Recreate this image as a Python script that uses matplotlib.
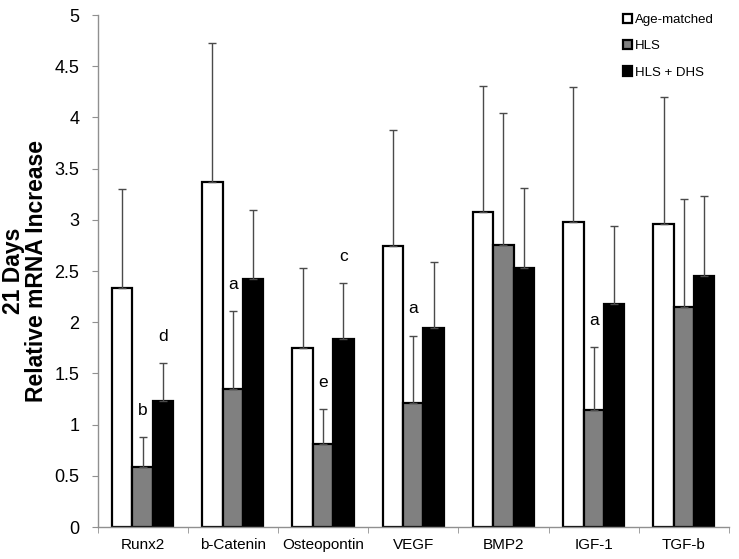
import matplotlib
matplotlib.use("Agg")
import matplotlib.pyplot as plt
import numpy as np

plt.rcParams['font.family'] = ['Liberation Sans', 'DejaVu Sans']

categories = ["Runx2", "b-Catenin", "Osteopontin", "VEGF", "BMP2", "IGF-1", "TGF-b"]
series_names = ["Age-matched", "HLS", "HLS + DHS"]
age_matched = [2.33, 3.37, 1.75, 2.74, 3.08, 2.98, 2.96]
hls = [0.59, 1.35, 0.81, 1.21, 2.75, 1.14, 2.15]
hls_dhs = [1.23, 2.42, 1.84, 1.94, 2.53, 2.18, 2.45]
age_matched_err = [0.97, 1.36, 0.78, 1.14, 1.23, 1.32, 1.24]
hls_err = [0.29, 0.76, 0.34, 0.66, 1.29, 0.62, 1.05]
hls_dhs_err = [0.37, 0.68, 0.54, 0.65, 0.78, 0.76, 0.78]
# significance letters: (category index, series index, letter)
sig_letters = [(0, 1, "b"), (0, 2, "d"), (1, 1, "a"), (2, 1, "e"), (2, 2, "c"),
               (3, 1, "a"), (5, 1, "a")]

fig = plt.figure(figsize=(7.39, 5.59), dpi=100)
ax = fig.add_axes([0.132, 0.0572, 0.8545, 0.9158])

x = np.arange(len(categories))
w = 0.226
vals = [age_matched, hls, hls_dhs]
errs = [age_matched_err, hls_err, hls_dhs_err]
colors = ["white", "#808080", "black"]
for i in range(3):
    pos = x + (i - 1) * w
    ax.bar(pos, vals[i], width=w, color=colors[i], edgecolor="black",
           linewidth=1.6, label=series_names[i], zorder=2)
    ax.errorbar(pos, vals[i], yerr=[np.zeros(len(categories)), errs[i]],
                fmt="none", ecolor="#4a4a4a", elinewidth=1.0, capsize=3,
                capthick=1.0, zorder=3)

for ci, si, letter in sig_letters:
    top = vals[si][ci] + errs[si][ci]
    ax.text(ci + (si - 1) * w, top + 0.26, letter, ha="center", va="center",
            fontsize=12.5, color="black", zorder=4)

ax.set_xlim(-0.5, len(categories) - 0.5)
ax.set_ylim(0, 5)
ax.set_yticks(np.arange(0, 5.01, 0.5))
ax.set_yticklabels(["0", "0.5", "1", "1.5", "2", "2.5", "3", "3.5", "4", "4.5", "5"])
ax.set_xticks(x)
ax.set_xticklabels(categories, fontsize=11)
ax.set_xticks(np.arange(-0.5, len(categories)), minor=True)
ax.tick_params(axis="x", which="major", length=0, pad=8)
ax.tick_params(axis="x", which="minor", length=4, color="#909090", direction="out")
ax.tick_params(axis="y", labelsize=13, length=4, color="#909090", pad=9)

for s in ["top", "right"]:
    ax.spines[s].set_visible(False)
for s in ["left", "bottom"]:
    ax.spines[s].set_color("#909090")
    ax.spines[s].set_linewidth(1.0)

ax.set_ylabel("21 Days\nRelative mRNA Increase", fontsize=16.5, fontweight="bold",
              linespacing=1.0)
ax.yaxis.set_label_coords(-0.078, 0.5)

leg = ax.legend(loc="upper right", bbox_to_anchor=(0.995, 1.025), frameon=False,
                fontsize=9.5, handlelength=0.7, handleheight=0.7, handletextpad=0.2,
                labelspacing=1.05)

fig.savefig("out.png", dpi=100)
